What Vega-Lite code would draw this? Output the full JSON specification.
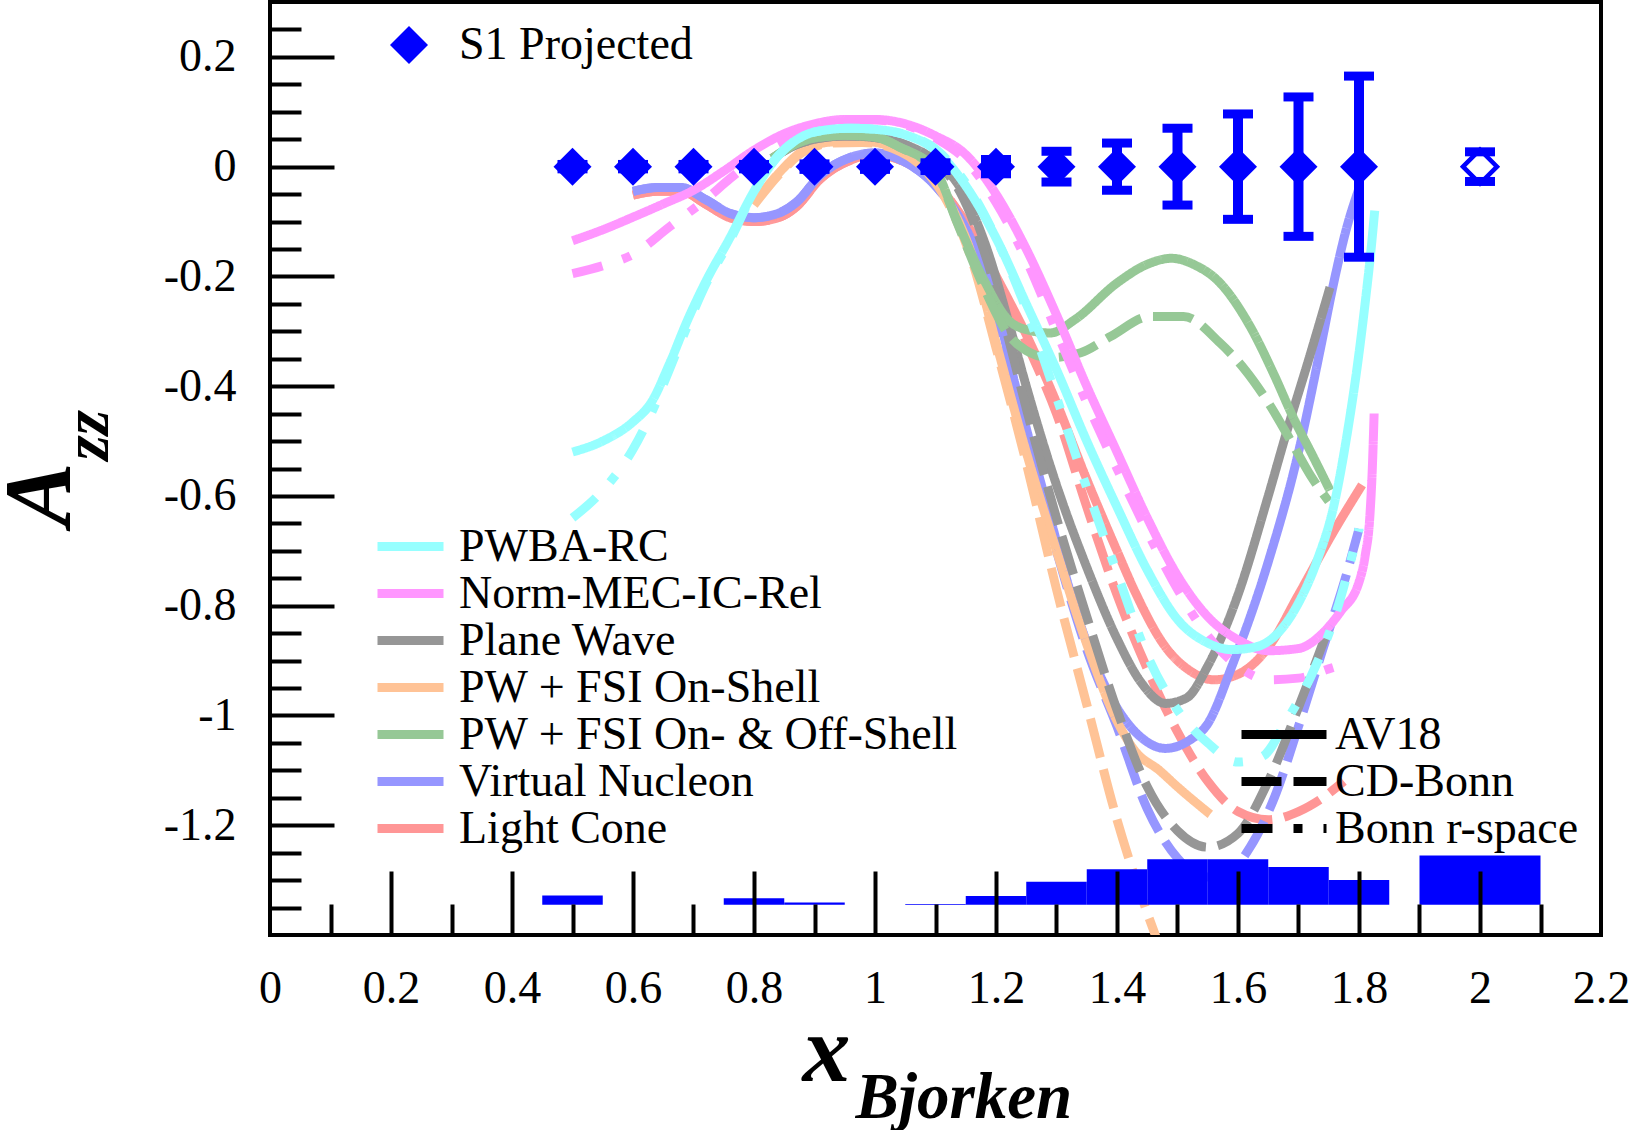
{
  "$schema": "https://vega.github.io/schema/vega-lite/v6.json",
  "width": 1331,
  "height": 933,
  "autosize": {"type": "none"},
  "padding": {"left": 270, "top": 2, "right": 29, "bottom": 195},
  "background": "white",
  "config": {
    "view": {"stroke": "black", "strokeWidth": 4},
    "font": "Liberation Serif",
    "axis": {"grid": false, "domain": false, "tickColor": "black", "tickWidth": 4, "labelColor": "black", "titleColor": "black"}
  },
  "datasets": {
    "curves": [
      {"model":"Light Cone","potential":"AV18","x":0.60,"y":-0.052},{"model":"Light Cone","potential":"AV18","x":0.64,"y":-0.045},{"model":"Light Cone","potential":"AV18","x":0.68,"y":-0.045},{"model":"Light Cone","potential":"AV18","x":0.72,"y":-0.068},{"model":"Light Cone","potential":"AV18","x":0.76,"y":-0.093},{"model":"Light Cone","potential":"AV18","x":0.80,"y":-0.10},{"model":"Light Cone","potential":"AV18","x":0.84,"y":-0.093},{"model":"Light Cone","potential":"AV18","x":0.87,"y":-0.073},{"model":"Light Cone","potential":"AV18","x":0.91,"y":-0.022},{"model":"Light Cone","potential":"AV18","x":0.96,"y":0.012},{"model":"Light Cone","potential":"AV18","x":1.00,"y":0.022},{"model":"Light Cone","potential":"AV18","x":1.05,"y":0.008},{"model":"Light Cone","potential":"AV18","x":1.10,"y":-0.03},{"model":"Light Cone","potential":"AV18","x":1.16,"y":-0.12},{"model":"Light Cone","potential":"AV18","x":1.21,"y":-0.22},{"model":"Light Cone","potential":"AV18","x":1.256,"y":-0.32},{"model":"Light Cone","potential":"AV18","x":1.30,"y":-0.43},{"model":"Light Cone","potential":"AV18","x":1.35,"y":-0.57},{"model":"Light Cone","potential":"AV18","x":1.40,"y":-0.70},{"model":"Light Cone","potential":"AV18","x":1.43,"y":-0.775},{"model":"Light Cone","potential":"AV18","x":1.48,"y":-0.875},{"model":"Light Cone","potential":"AV18","x":1.52,"y":-0.918},{"model":"Light Cone","potential":"AV18","x":1.56,"y":-0.935},{"model":"Light Cone","potential":"AV18","x":1.60,"y":-0.925},{"model":"Light Cone","potential":"AV18","x":1.65,"y":-0.876},{"model":"Light Cone","potential":"AV18","x":1.70,"y":-0.78},{"model":"Light Cone","potential":"AV18","x":1.757,"y":-0.667},{"model":"Light Cone","potential":"AV18","x":1.805,"y":-0.58},
      {"model":"Light Cone","potential":"CD-Bonn","x":0.60,"y":-0.052},{"model":"Light Cone","potential":"CD-Bonn","x":0.64,"y":-0.045},{"model":"Light Cone","potential":"CD-Bonn","x":0.68,"y":-0.045},{"model":"Light Cone","potential":"CD-Bonn","x":0.72,"y":-0.068},{"model":"Light Cone","potential":"CD-Bonn","x":0.76,"y":-0.093},{"model":"Light Cone","potential":"CD-Bonn","x":0.80,"y":-0.10},{"model":"Light Cone","potential":"CD-Bonn","x":0.84,"y":-0.093},{"model":"Light Cone","potential":"CD-Bonn","x":0.87,"y":-0.073},{"model":"Light Cone","potential":"CD-Bonn","x":0.91,"y":-0.022},{"model":"Light Cone","potential":"CD-Bonn","x":0.96,"y":0.012},{"model":"Light Cone","potential":"CD-Bonn","x":1.00,"y":0.022},{"model":"Light Cone","potential":"CD-Bonn","x":1.05,"y":0.008},{"model":"Light Cone","potential":"CD-Bonn","x":1.10,"y":-0.03},{"model":"Light Cone","potential":"CD-Bonn","x":1.16,"y":-0.12},{"model":"Light Cone","potential":"CD-Bonn","x":1.21,"y":-0.225},{"model":"Light Cone","potential":"CD-Bonn","x":1.256,"y":-0.335},{"model":"Light Cone","potential":"CD-Bonn","x":1.30,"y":-0.45},{"model":"Light Cone","potential":"CD-Bonn","x":1.35,"y":-0.62},{"model":"Light Cone","potential":"CD-Bonn","x":1.40,"y":-0.78},{"model":"Light Cone","potential":"CD-Bonn","x":1.45,"y":-0.915},{"model":"Light Cone","potential":"CD-Bonn","x":1.50,"y":-1.03},{"model":"Light Cone","potential":"CD-Bonn","x":1.55,"y":-1.12},{"model":"Light Cone","potential":"CD-Bonn","x":1.60,"y":-1.175},{"model":"Light Cone","potential":"CD-Bonn","x":1.65,"y":-1.19},{"model":"Light Cone","potential":"CD-Bonn","x":1.70,"y":-1.175},{"model":"Light Cone","potential":"CD-Bonn","x":1.74,"y":-1.15},{"model":"Light Cone","potential":"CD-Bonn","x":1.775,"y":-1.12},
      {"model":"Virtual Nucleon","potential":"AV18","x":0.60,"y":-0.045},{"model":"Virtual Nucleon","potential":"AV18","x":0.64,"y":-0.038},{"model":"Virtual Nucleon","potential":"AV18","x":0.68,"y":-0.038},{"model":"Virtual Nucleon","potential":"AV18","x":0.72,"y":-0.06},{"model":"Virtual Nucleon","potential":"AV18","x":0.76,"y":-0.085},{"model":"Virtual Nucleon","potential":"AV18","x":0.80,"y":-0.093},{"model":"Virtual Nucleon","potential":"AV18","x":0.84,"y":-0.085},{"model":"Virtual Nucleon","potential":"AV18","x":0.87,"y":-0.065},{"model":"Virtual Nucleon","potential":"AV18","x":0.91,"y":-0.015},{"model":"Virtual Nucleon","potential":"AV18","x":0.96,"y":0.017},{"model":"Virtual Nucleon","potential":"AV18","x":1.00,"y":0.025},{"model":"Virtual Nucleon","potential":"AV18","x":1.05,"y":0.008},{"model":"Virtual Nucleon","potential":"AV18","x":1.10,"y":-0.035},{"model":"Virtual Nucleon","potential":"AV18","x":1.16,"y":-0.135},{"model":"Virtual Nucleon","potential":"AV18","x":1.20,"y":-0.25},{"model":"Virtual Nucleon","potential":"AV18","x":1.23,"y":-0.39},{"model":"Virtual Nucleon","potential":"AV18","x":1.28,"y":-0.60},{"model":"Virtual Nucleon","potential":"AV18","x":1.34,"y":-0.836},{"model":"Virtual Nucleon","potential":"AV18","x":1.40,"y":-0.986},{"model":"Virtual Nucleon","potential":"AV18","x":1.44,"y":-1.04},{"model":"Virtual Nucleon","potential":"AV18","x":1.48,"y":-1.06},{"model":"Virtual Nucleon","potential":"AV18","x":1.52,"y":-1.045},{"model":"Virtual Nucleon","potential":"AV18","x":1.55,"y":-1.015},{"model":"Virtual Nucleon","potential":"AV18","x":1.59,"y":-0.91},{"model":"Virtual Nucleon","potential":"AV18","x":1.65,"y":-0.72},{"model":"Virtual Nucleon","potential":"AV18","x":1.70,"y":-0.52},{"model":"Virtual Nucleon","potential":"AV18","x":1.736,"y":-0.333},{"model":"Virtual Nucleon","potential":"AV18","x":1.757,"y":-0.218},{"model":"Virtual Nucleon","potential":"AV18","x":1.78,"y":-0.11},{"model":"Virtual Nucleon","potential":"AV18","x":1.80,"y":-0.04},
      {"model":"Virtual Nucleon","potential":"CD-Bonn","x":0.60,"y":-0.045},{"model":"Virtual Nucleon","potential":"CD-Bonn","x":0.64,"y":-0.038},{"model":"Virtual Nucleon","potential":"CD-Bonn","x":0.68,"y":-0.038},{"model":"Virtual Nucleon","potential":"CD-Bonn","x":0.72,"y":-0.06},{"model":"Virtual Nucleon","potential":"CD-Bonn","x":0.76,"y":-0.085},{"model":"Virtual Nucleon","potential":"CD-Bonn","x":0.80,"y":-0.093},{"model":"Virtual Nucleon","potential":"CD-Bonn","x":0.84,"y":-0.085},{"model":"Virtual Nucleon","potential":"CD-Bonn","x":0.87,"y":-0.065},{"model":"Virtual Nucleon","potential":"CD-Bonn","x":0.91,"y":-0.015},{"model":"Virtual Nucleon","potential":"CD-Bonn","x":0.96,"y":0.017},{"model":"Virtual Nucleon","potential":"CD-Bonn","x":1.00,"y":0.025},{"model":"Virtual Nucleon","potential":"CD-Bonn","x":1.05,"y":0.008},{"model":"Virtual Nucleon","potential":"CD-Bonn","x":1.10,"y":-0.035},{"model":"Virtual Nucleon","potential":"CD-Bonn","x":1.16,"y":-0.14},{"model":"Virtual Nucleon","potential":"CD-Bonn","x":1.20,"y":-0.27},{"model":"Virtual Nucleon","potential":"CD-Bonn","x":1.25,"y":-0.49},{"model":"Virtual Nucleon","potential":"CD-Bonn","x":1.30,"y":-0.70},{"model":"Virtual Nucleon","potential":"CD-Bonn","x":1.35,"y":-0.88},{"model":"Virtual Nucleon","potential":"CD-Bonn","x":1.40,"y":-1.02},{"model":"Virtual Nucleon","potential":"CD-Bonn","x":1.45,"y":-1.17},{"model":"Virtual Nucleon","potential":"CD-Bonn","x":1.50,"y":-1.26},{"model":"Virtual Nucleon","potential":"CD-Bonn","x":1.54,"y":-1.295},{"model":"Virtual Nucleon","potential":"CD-Bonn","x":1.58,"y":-1.29},{"model":"Virtual Nucleon","potential":"CD-Bonn","x":1.62,"y":-1.24},{"model":"Virtual Nucleon","potential":"CD-Bonn","x":1.66,"y":-1.15},{"model":"Virtual Nucleon","potential":"CD-Bonn","x":1.70,"y":-1.02},{"model":"Virtual Nucleon","potential":"CD-Bonn","x":1.74,"y":-0.88},{"model":"Virtual Nucleon","potential":"CD-Bonn","x":1.78,"y":-0.74},{"model":"Virtual Nucleon","potential":"CD-Bonn","x":1.80,"y":-0.66},
      {"model":"PW + FSI On-Shell","potential":"AV18","x":0.80,"y":-0.067},{"model":"PW + FSI On-Shell","potential":"AV18","x":0.84,"y":-0.013},{"model":"PW + FSI On-Shell","potential":"AV18","x":0.88,"y":0.028},{"model":"PW + FSI On-Shell","potential":"AV18","x":0.93,"y":0.045},{"model":"PW + FSI On-Shell","potential":"AV18","x":0.98,"y":0.046},{"model":"PW + FSI On-Shell","potential":"AV18","x":1.03,"y":0.035},{"model":"PW + FSI On-Shell","potential":"AV18","x":1.08,"y":0.0},{"model":"PW + FSI On-Shell","potential":"AV18","x":1.12,"y":-0.06},{"model":"PW + FSI On-Shell","potential":"AV18","x":1.16,"y":-0.16},{"model":"PW + FSI On-Shell","potential":"AV18","x":1.20,"y":-0.32},{"model":"PW + FSI On-Shell","potential":"AV18","x":1.25,"y":-0.52},{"model":"PW + FSI On-Shell","potential":"AV18","x":1.30,"y":-0.70},{"model":"PW + FSI On-Shell","potential":"AV18","x":1.35,"y":-0.87},{"model":"PW + FSI On-Shell","potential":"AV18","x":1.40,"y":-1.01},{"model":"PW + FSI On-Shell","potential":"AV18","x":1.43,"y":-1.065},{"model":"PW + FSI On-Shell","potential":"AV18","x":1.47,"y":-1.10},{"model":"PW + FSI On-Shell","potential":"AV18","x":1.50,"y":-1.13},{"model":"PW + FSI On-Shell","potential":"AV18","x":1.554,"y":-1.18},
      {"model":"PW + FSI On-Shell","potential":"CD-Bonn","x":0.80,"y":-0.07},{"model":"PW + FSI On-Shell","potential":"CD-Bonn","x":0.84,"y":-0.016},{"model":"PW + FSI On-Shell","potential":"CD-Bonn","x":0.88,"y":0.026},{"model":"PW + FSI On-Shell","potential":"CD-Bonn","x":0.93,"y":0.043},{"model":"PW + FSI On-Shell","potential":"CD-Bonn","x":0.98,"y":0.044},{"model":"PW + FSI On-Shell","potential":"CD-Bonn","x":1.03,"y":0.033},{"model":"PW + FSI On-Shell","potential":"CD-Bonn","x":1.08,"y":-0.003},{"model":"PW + FSI On-Shell","potential":"CD-Bonn","x":1.12,"y":-0.065},{"model":"PW + FSI On-Shell","potential":"CD-Bonn","x":1.16,"y":-0.17},{"model":"PW + FSI On-Shell","potential":"CD-Bonn","x":1.20,"y":-0.33},{"model":"PW + FSI On-Shell","potential":"CD-Bonn","x":1.25,"y":-0.54},{"model":"PW + FSI On-Shell","potential":"CD-Bonn","x":1.30,"y":-0.77},{"model":"PW + FSI On-Shell","potential":"CD-Bonn","x":1.35,"y":-0.98},{"model":"PW + FSI On-Shell","potential":"CD-Bonn","x":1.40,"y":-1.19},{"model":"PW + FSI On-Shell","potential":"CD-Bonn","x":1.45,"y":-1.36},{"model":"PW + FSI On-Shell","potential":"CD-Bonn","x":1.47,"y":-1.42},
      {"model":"Plane Wave","potential":"AV18","x":0.83,"y":0.015},{"model":"Plane Wave","potential":"AV18","x":0.87,"y":0.04},{"model":"Plane Wave","potential":"AV18","x":0.91,"y":0.052},{"model":"Plane Wave","potential":"AV18","x":0.95,"y":0.056},{"model":"Plane Wave","potential":"AV18","x":1.00,"y":0.053},{"model":"Plane Wave","potential":"AV18","x":1.05,"y":0.04},{"model":"Plane Wave","potential":"AV18","x":1.10,"y":0.01},{"model":"Plane Wave","potential":"AV18","x":1.14,"y":-0.037},{"model":"Plane Wave","potential":"AV18","x":1.185,"y":-0.15},{"model":"Plane Wave","potential":"AV18","x":1.22,"y":-0.28},{"model":"Plane Wave","potential":"AV18","x":1.25,"y":-0.40},{"model":"Plane Wave","potential":"AV18","x":1.30,"y":-0.58},{"model":"Plane Wave","potential":"AV18","x":1.35,"y":-0.73},{"model":"Plane Wave","potential":"AV18","x":1.40,"y":-0.86},{"model":"Plane Wave","potential":"AV18","x":1.44,"y":-0.94},{"model":"Plane Wave","potential":"AV18","x":1.48,"y":-0.978},{"model":"Plane Wave","potential":"AV18","x":1.515,"y":-0.968},{"model":"Plane Wave","potential":"AV18","x":1.55,"y":-0.91},{"model":"Plane Wave","potential":"AV18","x":1.60,"y":-0.78},{"model":"Plane Wave","potential":"AV18","x":1.65,"y":-0.60},{"model":"Plane Wave","potential":"AV18","x":1.68,"y":-0.485},{"model":"Plane Wave","potential":"AV18","x":1.72,"y":-0.34},{"model":"Plane Wave","potential":"AV18","x":1.752,"y":-0.22},
      {"model":"Plane Wave","potential":"CD-Bonn","x":0.83,"y":0.015},{"model":"Plane Wave","potential":"CD-Bonn","x":0.87,"y":0.04},{"model":"Plane Wave","potential":"CD-Bonn","x":0.91,"y":0.052},{"model":"Plane Wave","potential":"CD-Bonn","x":0.95,"y":0.056},{"model":"Plane Wave","potential":"CD-Bonn","x":1.00,"y":0.053},{"model":"Plane Wave","potential":"CD-Bonn","x":1.05,"y":0.04},{"model":"Plane Wave","potential":"CD-Bonn","x":1.10,"y":0.008},{"model":"Plane Wave","potential":"CD-Bonn","x":1.14,"y":-0.045},{"model":"Plane Wave","potential":"CD-Bonn","x":1.185,"y":-0.17},{"model":"Plane Wave","potential":"CD-Bonn","x":1.22,"y":-0.31},{"model":"Plane Wave","potential":"CD-Bonn","x":1.25,"y":-0.44},{"model":"Plane Wave","potential":"CD-Bonn","x":1.30,"y":-0.64},{"model":"Plane Wave","potential":"CD-Bonn","x":1.35,"y":-0.82},{"model":"Plane Wave","potential":"CD-Bonn","x":1.40,"y":-0.99},{"model":"Plane Wave","potential":"CD-Bonn","x":1.45,"y":-1.13},{"model":"Plane Wave","potential":"CD-Bonn","x":1.50,"y":-1.21},{"model":"Plane Wave","potential":"CD-Bonn","x":1.55,"y":-1.24},{"model":"Plane Wave","potential":"CD-Bonn","x":1.60,"y":-1.215},{"model":"Plane Wave","potential":"CD-Bonn","x":1.65,"y":-1.12},{"model":"Plane Wave","potential":"CD-Bonn","x":1.70,"y":-0.985},{"model":"Plane Wave","potential":"CD-Bonn","x":1.75,"y":-0.84},
      {"model":"PW + FSI On- & Off-Shell","potential":"AV18","x":0.83,"y":0.015},{"model":"PW + FSI On- & Off-Shell","potential":"AV18","x":0.87,"y":0.042},{"model":"PW + FSI On- & Off-Shell","potential":"AV18","x":0.91,"y":0.054},{"model":"PW + FSI On- & Off-Shell","potential":"AV18","x":0.95,"y":0.057},{"model":"PW + FSI On- & Off-Shell","potential":"AV18","x":1.00,"y":0.054},{"model":"PW + FSI On- & Off-Shell","potential":"AV18","x":1.04,"y":0.036},{"model":"PW + FSI On- & Off-Shell","potential":"AV18","x":1.10,"y":-0.007},{"model":"PW + FSI On- & Off-Shell","potential":"AV18","x":1.135,"y":-0.097},{"model":"PW + FSI On- & Off-Shell","potential":"AV18","x":1.18,"y":-0.206},{"model":"PW + FSI On- & Off-Shell","potential":"AV18","x":1.22,"y":-0.279},{"model":"PW + FSI On- & Off-Shell","potential":"AV18","x":1.25,"y":-0.297},{"model":"PW + FSI On- & Off-Shell","potential":"AV18","x":1.29,"y":-0.303},{"model":"PW + FSI On- & Off-Shell","potential":"AV18","x":1.33,"y":-0.279},{"model":"PW + FSI On- & Off-Shell","potential":"AV18","x":1.40,"y":-0.212},{"model":"PW + FSI On- & Off-Shell","potential":"AV18","x":1.45,"y":-0.178},{"model":"PW + FSI On- & Off-Shell","potential":"AV18","x":1.49,"y":-0.167},{"model":"PW + FSI On- & Off-Shell","potential":"AV18","x":1.53,"y":-0.18},{"model":"PW + FSI On- & Off-Shell","potential":"AV18","x":1.565,"y":-0.206},{"model":"PW + FSI On- & Off-Shell","potential":"AV18","x":1.62,"y":-0.291},{"model":"PW + FSI On- & Off-Shell","potential":"AV18","x":1.66,"y":-0.38},{"model":"PW + FSI On- & Off-Shell","potential":"AV18","x":1.69,"y":-0.454},{"model":"PW + FSI On- & Off-Shell","potential":"AV18","x":1.725,"y":-0.53},{"model":"PW + FSI On- & Off-Shell","potential":"AV18","x":1.752,"y":-0.59},
      {"model":"PW + FSI On- & Off-Shell","potential":"CD-Bonn","x":0.83,"y":0.015},{"model":"PW + FSI On- & Off-Shell","potential":"CD-Bonn","x":0.87,"y":0.042},{"model":"PW + FSI On- & Off-Shell","potential":"CD-Bonn","x":0.91,"y":0.054},{"model":"PW + FSI On- & Off-Shell","potential":"CD-Bonn","x":0.95,"y":0.057},{"model":"PW + FSI On- & Off-Shell","potential":"CD-Bonn","x":1.00,"y":0.054},{"model":"PW + FSI On- & Off-Shell","potential":"CD-Bonn","x":1.04,"y":0.036},{"model":"PW + FSI On- & Off-Shell","potential":"CD-Bonn","x":1.10,"y":-0.008},{"model":"PW + FSI On- & Off-Shell","potential":"CD-Bonn","x":1.135,"y":-0.10},{"model":"PW + FSI On- & Off-Shell","potential":"CD-Bonn","x":1.18,"y":-0.22},{"model":"PW + FSI On- & Off-Shell","potential":"CD-Bonn","x":1.22,"y":-0.305},{"model":"PW + FSI On- & Off-Shell","potential":"CD-Bonn","x":1.25,"y":-0.335},{"model":"PW + FSI On- & Off-Shell","potential":"CD-Bonn","x":1.29,"y":-0.348},{"model":"PW + FSI On- & Off-Shell","potential":"CD-Bonn","x":1.34,"y":-0.339},{"model":"PW + FSI On- & Off-Shell","potential":"CD-Bonn","x":1.39,"y":-0.309},{"model":"PW + FSI On- & Off-Shell","potential":"CD-Bonn","x":1.455,"y":-0.273},{"model":"PW + FSI On- & Off-Shell","potential":"CD-Bonn","x":1.51,"y":-0.273},{"model":"PW + FSI On- & Off-Shell","potential":"CD-Bonn","x":1.57,"y":-0.321},{"model":"PW + FSI On- & Off-Shell","potential":"CD-Bonn","x":1.61,"y":-0.368},{"model":"PW + FSI On- & Off-Shell","potential":"CD-Bonn","x":1.65,"y":-0.43},{"model":"PW + FSI On- & Off-Shell","potential":"CD-Bonn","x":1.69,"y":-0.505},{"model":"PW + FSI On- & Off-Shell","potential":"CD-Bonn","x":1.72,"y":-0.563},{"model":"PW + FSI On- & Off-Shell","potential":"CD-Bonn","x":1.75,"y":-0.61},
      {"model":"Norm-MEC-IC-Rel","potential":"AV18","x":0.50,"y":-0.135},{"model":"Norm-MEC-IC-Rel","potential":"AV18","x":0.55,"y":-0.115},{"model":"Norm-MEC-IC-Rel","potential":"AV18","x":0.60,"y":-0.092},{"model":"Norm-MEC-IC-Rel","potential":"AV18","x":0.65,"y":-0.068},{"model":"Norm-MEC-IC-Rel","potential":"AV18","x":0.70,"y":-0.043},{"model":"Norm-MEC-IC-Rel","potential":"AV18","x":0.75,"y":-0.008},{"model":"Norm-MEC-IC-Rel","potential":"AV18","x":0.80,"y":0.030},{"model":"Norm-MEC-IC-Rel","potential":"AV18","x":0.85,"y":0.060},{"model":"Norm-MEC-IC-Rel","potential":"AV18","x":0.90,"y":0.078},{"model":"Norm-MEC-IC-Rel","potential":"AV18","x":0.95,"y":0.086},{"model":"Norm-MEC-IC-Rel","potential":"AV18","x":1.00,"y":0.086},{"model":"Norm-MEC-IC-Rel","potential":"AV18","x":1.05,"y":0.078},{"model":"Norm-MEC-IC-Rel","potential":"AV18","x":1.10,"y":0.056},{"model":"Norm-MEC-IC-Rel","potential":"AV18","x":1.15,"y":0.022},{"model":"Norm-MEC-IC-Rel","potential":"AV18","x":1.20,"y":-0.05},{"model":"Norm-MEC-IC-Rel","potential":"AV18","x":1.25,"y":-0.15},{"model":"Norm-MEC-IC-Rel","potential":"AV18","x":1.30,"y":-0.27},{"model":"Norm-MEC-IC-Rel","potential":"AV18","x":1.35,"y":-0.40},{"model":"Norm-MEC-IC-Rel","potential":"AV18","x":1.40,"y":-0.52},{"model":"Norm-MEC-IC-Rel","potential":"AV18","x":1.45,"y":-0.64},{"model":"Norm-MEC-IC-Rel","potential":"AV18","x":1.50,"y":-0.745},{"model":"Norm-MEC-IC-Rel","potential":"AV18","x":1.55,"y":-0.82},{"model":"Norm-MEC-IC-Rel","potential":"AV18","x":1.60,"y":-0.862},{"model":"Norm-MEC-IC-Rel","potential":"AV18","x":1.65,"y":-0.882},{"model":"Norm-MEC-IC-Rel","potential":"AV18","x":1.70,"y":-0.878},{"model":"Norm-MEC-IC-Rel","potential":"AV18","x":1.74,"y":-0.85},{"model":"Norm-MEC-IC-Rel","potential":"AV18","x":1.77,"y":-0.81},{"model":"Norm-MEC-IC-Rel","potential":"AV18","x":1.80,"y":-0.757},{"model":"Norm-MEC-IC-Rel","potential":"AV18","x":1.81,"y":-0.71},{"model":"Norm-MEC-IC-Rel","potential":"AV18","x":1.818,"y":-0.636},{"model":"Norm-MEC-IC-Rel","potential":"AV18","x":1.822,"y":-0.55},{"model":"Norm-MEC-IC-Rel","potential":"AV18","x":1.825,"y":-0.45},
      {"model":"Norm-MEC-IC-Rel","potential":"Bonn r-space","x":0.50,"y":-0.195},{"model":"Norm-MEC-IC-Rel","potential":"Bonn r-space","x":0.56,"y":-0.177},{"model":"Norm-MEC-IC-Rel","potential":"Bonn r-space","x":0.60,"y":-0.16},{"model":"Norm-MEC-IC-Rel","potential":"Bonn r-space","x":0.66,"y":-0.11},{"model":"Norm-MEC-IC-Rel","potential":"Bonn r-space","x":0.72,"y":-0.06},{"model":"Norm-MEC-IC-Rel","potential":"Bonn r-space","x":0.76,"y":-0.022},{"model":"Norm-MEC-IC-Rel","potential":"Bonn r-space","x":0.80,"y":0.012},{"model":"Norm-MEC-IC-Rel","potential":"Bonn r-space","x":0.85,"y":0.045},{"model":"Norm-MEC-IC-Rel","potential":"Bonn r-space","x":0.90,"y":0.07},{"model":"Norm-MEC-IC-Rel","potential":"Bonn r-space","x":0.95,"y":0.083},{"model":"Norm-MEC-IC-Rel","potential":"Bonn r-space","x":1.00,"y":0.085},{"model":"Norm-MEC-IC-Rel","potential":"Bonn r-space","x":1.05,"y":0.076},{"model":"Norm-MEC-IC-Rel","potential":"Bonn r-space","x":1.10,"y":0.052},{"model":"Norm-MEC-IC-Rel","potential":"Bonn r-space","x":1.15,"y":0.012},{"model":"Norm-MEC-IC-Rel","potential":"Bonn r-space","x":1.20,"y":-0.065},{"model":"Norm-MEC-IC-Rel","potential":"Bonn r-space","x":1.25,"y":-0.17},{"model":"Norm-MEC-IC-Rel","potential":"Bonn r-space","x":1.30,"y":-0.30},{"model":"Norm-MEC-IC-Rel","potential":"Bonn r-space","x":1.35,"y":-0.43},{"model":"Norm-MEC-IC-Rel","potential":"Bonn r-space","x":1.40,"y":-0.55},{"model":"Norm-MEC-IC-Rel","potential":"Bonn r-space","x":1.45,"y":-0.665},{"model":"Norm-MEC-IC-Rel","potential":"Bonn r-space","x":1.50,"y":-0.77},{"model":"Norm-MEC-IC-Rel","potential":"Bonn r-space","x":1.55,"y":-0.855},{"model":"Norm-MEC-IC-Rel","potential":"Bonn r-space","x":1.60,"y":-0.91},{"model":"Norm-MEC-IC-Rel","potential":"Bonn r-space","x":1.65,"y":-0.935},{"model":"Norm-MEC-IC-Rel","potential":"Bonn r-space","x":1.70,"y":-0.932},{"model":"Norm-MEC-IC-Rel","potential":"Bonn r-space","x":1.75,"y":-0.915},{"model":"Norm-MEC-IC-Rel","potential":"Bonn r-space","x":1.78,"y":-0.905},
      {"model":"PWBA-RC","potential":"AV18","x":0.50,"y":-0.52},{"model":"PWBA-RC","potential":"AV18","x":0.55,"y":-0.50},{"model":"PWBA-RC","potential":"AV18","x":0.60,"y":-0.465},{"model":"PWBA-RC","potential":"AV18","x":0.63,"y":-0.43},{"model":"PWBA-RC","potential":"AV18","x":0.66,"y":-0.36},{"model":"PWBA-RC","potential":"AV18","x":0.69,"y":-0.28},{"model":"PWBA-RC","potential":"AV18","x":0.72,"y":-0.21},{"model":"PWBA-RC","potential":"AV18","x":0.76,"y":-0.13},{"model":"PWBA-RC","potential":"AV18","x":0.80,"y":-0.045},{"model":"PWBA-RC","potential":"AV18","x":0.84,"y":0.02},{"model":"PWBA-RC","potential":"AV18","x":0.88,"y":0.055},{"model":"PWBA-RC","potential":"AV18","x":0.92,"y":0.067},{"model":"PWBA-RC","potential":"AV18","x":0.96,"y":0.070},{"model":"PWBA-RC","potential":"AV18","x":1.00,"y":0.068},{"model":"PWBA-RC","potential":"AV18","x":1.05,"y":0.058},{"model":"PWBA-RC","potential":"AV18","x":1.10,"y":0.030},{"model":"PWBA-RC","potential":"AV18","x":1.15,"y":-0.035},{"model":"PWBA-RC","potential":"AV18","x":1.20,"y":-0.13},{"model":"PWBA-RC","potential":"AV18","x":1.25,"y":-0.25},{"model":"PWBA-RC","potential":"AV18","x":1.30,"y":-0.37},{"model":"PWBA-RC","potential":"AV18","x":1.35,"y":-0.50},{"model":"PWBA-RC","potential":"AV18","x":1.40,"y":-0.62},{"model":"PWBA-RC","potential":"AV18","x":1.45,"y":-0.735},{"model":"PWBA-RC","potential":"AV18","x":1.50,"y":-0.825},{"model":"PWBA-RC","potential":"AV18","x":1.55,"y":-0.868},{"model":"PWBA-RC","potential":"AV18","x":1.59,"y":-0.88},{"model":"PWBA-RC","potential":"AV18","x":1.63,"y":-0.875},{"model":"PWBA-RC","potential":"AV18","x":1.67,"y":-0.845},{"model":"PWBA-RC","potential":"AV18","x":1.70,"y":-0.795},{"model":"PWBA-RC","potential":"AV18","x":1.73,"y":-0.72},{"model":"PWBA-RC","potential":"AV18","x":1.76,"y":-0.61},{"model":"PWBA-RC","potential":"AV18","x":1.78,"y":-0.49},{"model":"PWBA-RC","potential":"AV18","x":1.80,"y":-0.34},{"model":"PWBA-RC","potential":"AV18","x":1.81,"y":-0.25},{"model":"PWBA-RC","potential":"AV18","x":1.82,"y":-0.15},{"model":"PWBA-RC","potential":"AV18","x":1.826,"y":-0.08},
      {"model":"PWBA-RC","potential":"Bonn r-space","x":0.50,"y":-0.64},{"model":"PWBA-RC","potential":"Bonn r-space","x":0.55,"y":-0.59},{"model":"PWBA-RC","potential":"Bonn r-space","x":0.60,"y":-0.515},{"model":"PWBA-RC","potential":"Bonn r-space","x":0.63,"y":-0.45},{"model":"PWBA-RC","potential":"Bonn r-space","x":0.66,"y":-0.37},{"model":"PWBA-RC","potential":"Bonn r-space","x":0.69,"y":-0.29},{"model":"PWBA-RC","potential":"Bonn r-space","x":0.72,"y":-0.215},{"model":"PWBA-RC","potential":"Bonn r-space","x":0.76,"y":-0.135},{"model":"PWBA-RC","potential":"Bonn r-space","x":0.80,"y":-0.045},{"model":"PWBA-RC","potential":"Bonn r-space","x":0.84,"y":0.02},{"model":"PWBA-RC","potential":"Bonn r-space","x":0.88,"y":0.055},{"model":"PWBA-RC","potential":"Bonn r-space","x":0.92,"y":0.067},{"model":"PWBA-RC","potential":"Bonn r-space","x":0.96,"y":0.070},{"model":"PWBA-RC","potential":"Bonn r-space","x":1.00,"y":0.068},{"model":"PWBA-RC","potential":"Bonn r-space","x":1.05,"y":0.058},{"model":"PWBA-RC","potential":"Bonn r-space","x":1.10,"y":0.032},{"model":"PWBA-RC","potential":"Bonn r-space","x":1.15,"y":-0.03},{"model":"PWBA-RC","potential":"Bonn r-space","x":1.20,"y":-0.13},{"model":"PWBA-RC","potential":"Bonn r-space","x":1.25,"y":-0.26},{"model":"PWBA-RC","potential":"Bonn r-space","x":1.30,"y":-0.42},{"model":"PWBA-RC","potential":"Bonn r-space","x":1.35,"y":-0.585},{"model":"PWBA-RC","potential":"Bonn r-space","x":1.40,"y":-0.74},{"model":"PWBA-RC","potential":"Bonn r-space","x":1.45,"y":-0.89},{"model":"PWBA-RC","potential":"Bonn r-space","x":1.50,"y":-0.99},{"model":"PWBA-RC","potential":"Bonn r-space","x":1.55,"y":-1.05},{"model":"PWBA-RC","potential":"Bonn r-space","x":1.60,"y":-1.085},{"model":"PWBA-RC","potential":"Bonn r-space","x":1.64,"y":-1.075},{"model":"PWBA-RC","potential":"Bonn r-space","x":1.68,"y":-1.01},{"model":"PWBA-RC","potential":"Bonn r-space","x":1.72,"y":-0.93},{"model":"PWBA-RC","potential":"Bonn r-space","x":1.76,"y":-0.82},{"model":"PWBA-RC","potential":"Bonn r-space","x":1.80,"y":-0.66}
    ],
    "points": [
      {"series":"S1 Projected","x":0.5,"y":0,"lo":-0.004,"hi":0.004,"open":false},
      {"series":"S1 Projected","x":0.6,"y":0,"lo":-0.004,"hi":0.004,"open":false},
      {"series":"S1 Projected","x":0.7,"y":0,"lo":-0.004,"hi":0.004,"open":false},
      {"series":"S1 Projected","x":0.8,"y":0,"lo":-0.004,"hi":0.004,"open":false},
      {"series":"S1 Projected","x":0.9,"y":0,"lo":-0.005,"hi":0.005,"open":false},
      {"series":"S1 Projected","x":1.0,"y":0,"lo":-0.005,"hi":0.005,"open":false},
      {"series":"S1 Projected","x":1.1,"y":0,"lo":-0.007,"hi":0.007,"open":false},
      {"series":"S1 Projected","x":1.2,"y":0,"lo":-0.013,"hi":0.013,"open":false},
      {"series":"S1 Projected","x":1.3,"y":0,"lo":-0.028,"hi":0.028,"open":false},
      {"series":"S1 Projected","x":1.4,"y":0,"lo":-0.043,"hi":0.043,"open":false},
      {"series":"S1 Projected","x":1.5,"y":0,"lo":-0.07,"hi":0.07,"open":false},
      {"series":"S1 Projected","x":1.6,"y":0,"lo":-0.096,"hi":0.096,"open":false},
      {"series":"S1 Projected","x":1.7,"y":0,"lo":-0.127,"hi":0.127,"open":false},
      {"series":"S1 Projected","x":1.8,"y":0,"lo":-0.165,"hi":0.165,"open":false},
      {"series":"S1 Projected","x":2.0,"y":0,"lo":-0.027,"hi":0.027,"open":true}
    ],
    "bars": [
      {"lo":0.45,"hi":0.55,"top":-1.328},
      {"lo":0.75,"hi":0.85,"top":-1.333},
      {"lo":0.85,"hi":0.95,"top":-1.341},
      {"lo":1.05,"hi":1.15,"top":-1.3435},
      {"lo":1.15,"hi":1.25,"top":-1.329},
      {"lo":1.25,"hi":1.35,"top":-1.303},
      {"lo":1.35,"hi":1.45,"top":-1.28},
      {"lo":1.45,"hi":1.55,"top":-1.262},
      {"lo":1.55,"hi":1.65,"top":-1.262},
      {"lo":1.65,"hi":1.75,"top":-1.276},
      {"lo":1.75,"hi":1.85,"top":-1.3},
      {"lo":1.9,"hi":2.1,"top":-1.255}
    ]
  },
  "resolve": {"axis": {"x": "independent", "y": "independent"}},
  "layer": [
    {
      "data": {"name": "curves"},
      "mark": {"type": "line", "interpolate": "monotone", "strokeWidth": 9, "clip": true, "strokeCap": "butt"},
      "encoding": {
        "x": {"field": "x", "type": "quantitative", "scale": {"domain": [0, 2.2], "nice": false, "zero": false},
              "axis": {"orient": "bottom", "values": [0.2,0.4,0.6,0.8,1,1.2,1.4,1.6,1.8,2], "labels": false, "ticks": true, "tickSize": -64, "domain": false, "title": null, "zindex": 2}},
        "y": {"field": "y", "type": "quantitative", "scale": {"domain": [-1.4, 0.3], "nice": false, "zero": false},
              "axis": {"orient": "left", "values": [-1.2,-1,-0.8,-0.6,-0.4,-0.2,0,0.2], "labels": false, "ticks": true, "tickSize": -64, "domain": false, "title": null, "zindex": 2}},
        "color": {"field": "model", "type": "nominal",
                  "scale": {"domain": ["PWBA-RC","Norm-MEC-IC-Rel","Plane Wave","PW + FSI On-Shell","PW + FSI On- & Off-Shell","Virtual Nucleon","Light Cone"],
                            "range": ["#96FFFF","#FF96FF","#969696","#FFC396","#96C896","#9696FF","#FF9696"]},
                  "legend": {"title": null, "orient": "none", "legendX": 103, "legendY": 521, "padding": 0, "symbolType": "stroke", "symbolSize": 4356, "symbolStrokeWidth": 9, "labelFont": "Liberation Serif", "labelFontSize": 46, "labelColor": "black", "labelOffset": 11, "labelLimit": 2000, "rowPadding": 0, "clipHeight": 47}},
        "strokeDash": {"field": "potential", "type": "nominal",
                       "scale": {"domain": ["AV18","CD-Bonn","Bonn r-space"], "range": [[1,0],[40,12],[31,21,9,21]]},
                       "legend": {"title": null, "orient": "none", "legendX": 967, "legendY": 709, "padding": 0, "symbolType": "stroke", "symbolSize": 7225, "symbolStrokeWidth": 9, "symbolStrokeColor": "black", "labelFont": "Liberation Serif", "labelFontSize": 46, "labelColor": "black", "labelOffset": 4, "labelLimit": 2000, "rowPadding": 0, "clipHeight": 47}}
      }
    },
    {
      "data": {"name": "bars"},
      "mark": {"type": "bar", "color": "#0000FF"},
      "encoding": {
        "x": {"field": "lo", "type": "quantitative", "scale": {"domain": [0, 2.2], "nice": false, "zero": false},
              "axis": {"orient": "bottom", "values": [0.1,0.3,0.5,0.7,0.9,1.1,1.3,1.5,1.7,1.9,2.1], "labels": false, "ticks": true, "tickSize": -31, "domain": false, "title": null, "zindex": 2}},
        "x2": {"field": "hi"},
        "y": {"field": "top", "type": "quantitative", "scale": {"domain": [-1.4, 0.3], "nice": false, "zero": false},
              "axis": {"orient": "left", "values": [-1.35,-1.3,-1.25,-1.15,-1.1,-1.05,-0.95,-0.9,-0.85,-0.75,-0.7,-0.65,-0.55,-0.5,-0.45,-0.35,-0.3,-0.25,-0.15,-0.1,-0.05,0.05,0.1,0.15,0.25], "labels": false, "ticks": true, "tickSize": -31, "domain": false, "title": null, "zindex": 2}},
        "y2": {"datum": -1.345}
      }
    },
    {
      "mark": {"type": "rule", "color": "black", "strokeWidth": 4},
      "encoding": {
        "y": {"datum": 0, "type": "quantitative", "scale": {"domain": [-1.4, 0.3], "nice": false, "zero": false}, "axis": null}
      }
    },
    {
      "data": {"name": "points"},
      "mark": {"type": "rule", "color": "#0000FF", "strokeWidth": 10},
      "encoding": {
        "x": {"field": "x", "type": "quantitative", "scale": {"domain": [0, 2.2], "nice": false, "zero": false},
              "axis": {"orient": "bottom", "values": [0,0.2,0.4,0.6,0.8,1,1.2,1.4,1.6,1.8,2,2.2], "ticks": false, "tickSize": 0, "domain": false, "labelPadding": 31, "labelFont": "Liberation Serif", "labelFontSize": 46, "labelColor": "black", "labelFlush": false, "labelOverlap": false, "labelBound": false, "labelExpr": "toString(datum.value)",
                       "title": "x", "titleFont": "Liberation Serif", "titleFontSize": 96, "titleFontWeight": "bold", "titleFontStyle": "italic", "titleX": 532, "titleY": 145, "titleAlign": "left", "titleBaseline": "alphabetic", "titleAngle": 0, "zindex": 2}},
        "y": {"field": "lo", "type": "quantitative", "scale": {"domain": [-1.4, 0.3], "nice": false, "zero": false},
              "axis": {"orient": "left", "values": [-1.2,-1,-0.8,-0.6,-0.4,-0.2,0,0.2], "ticks": false, "tickSize": 0, "domain": false, "labelPadding": 34, "labelFont": "Liberation Serif", "labelFontSize": 46, "labelColor": "black", "labelFlush": false, "labelOverlap": false, "labelBound": false, "labelExpr": "toString(datum.value)",
                       "title": "A", "titleFont": "Liberation Serif", "titleFontSize": 96, "titleFontWeight": "bold", "titleFontStyle": "italic", "titleX": -201, "titleY": 524, "titleAlign": "left", "titleBaseline": "alphabetic", "titleAngle": -90, "zindex": 2}},
        "y2": {"field": "hi"}
      }
    },
    {
      "data": {"name": "points"},
      "transform": [{"filter": "datum.open == false"}],
      "mark": {"type": "point", "shape": "diamond", "filled": true, "color": "#0000FF", "size": 1444, "opacity": 1},
      "encoding": {
        "x": {"field": "x", "type": "quantitative", "scale": {"domain": [0, 2.2], "nice": false, "zero": false}, "axis": null},
        "y": {"field": "y", "type": "quantitative", "scale": {"domain": [-1.4, 0.3], "nice": false, "zero": false}, "axis": null},
        "shape": {"field": "series", "type": "nominal", "scale": {"domain": ["S1 Projected"], "range": ["diamond"]},
                  "legend": {"title": null, "orient": "none", "legendX": 116, "legendY": 20, "padding": 0, "symbolSize": 1444, "symbolFillColor": "#0000FF", "symbolStrokeWidth": 0, "labelFont": "Liberation Serif", "labelFontSize": 46, "labelColor": "black", "labelOffset": 27, "labelLimit": 2000}}
      }
    },
    {
      "data": {"name": "points"},
      "transform": [{"filter": "datum.open == true"}],
      "mark": {"type": "point", "shape": "diamond", "filled": false, "fill": "white", "fillOpacity": 1, "stroke": "#0000FF", "strokeWidth": 4.5, "size": 1156, "opacity": 1},
      "encoding": {
        "x": {"field": "x", "type": "quantitative", "scale": {"domain": [0, 2.2], "nice": false, "zero": false}, "axis": null},
        "y": {"field": "y", "type": "quantitative", "scale": {"domain": [-1.4, 0.3], "nice": false, "zero": false}, "axis": null}
      }
    },
    {
      "data": {"name": "points"},
      "mark": {"type": "tick", "orient": "horizontal", "color": "#0000FF", "size": 30, "thickness": 9, "opacity": 1},
      "encoding": {
        "x": {"field": "x", "type": "quantitative", "scale": {"domain": [0, 2.2], "nice": false, "zero": false},
              "axis": {"orient": "bottom", "labels": false, "ticks": false, "domain": false, "values": [], "title": "Bjorken", "titleFont": "Liberation Serif", "titleFontSize": 65, "titleFontWeight": "bold", "titleFontStyle": "italic", "titleColor": "black", "titleX": 585, "titleY": 182, "titleAlign": "left", "titleBaseline": "alphabetic", "titleAngle": 0}},
        "y": {"field": "hi", "type": "quantitative", "scale": {"domain": [-1.4, 0.3], "nice": false, "zero": false},
              "axis": {"orient": "left", "labels": false, "ticks": false, "domain": false, "values": [], "title": "zz", "titleFont": "Liberation Serif", "titleFontSize": 65, "titleFontWeight": "bold", "titleFontStyle": "italic", "titleColor": "black", "titleX": -163, "titleY": 458, "titleAlign": "left", "titleBaseline": "alphabetic", "titleAngle": -90}}
      }
    },
    {
      "data": {"name": "points"},
      "mark": {"type": "tick", "orient": "horizontal", "color": "#0000FF", "size": 30, "thickness": 9, "opacity": 1},
      "encoding": {
        "x": {"field": "x", "type": "quantitative", "scale": {"domain": [0, 2.2], "nice": false, "zero": false}, "axis": null},
        "y": {"field": "lo", "type": "quantitative", "scale": {"domain": [-1.4, 0.3], "nice": false, "zero": false}, "axis": null}
      }
    }
  ]
}
